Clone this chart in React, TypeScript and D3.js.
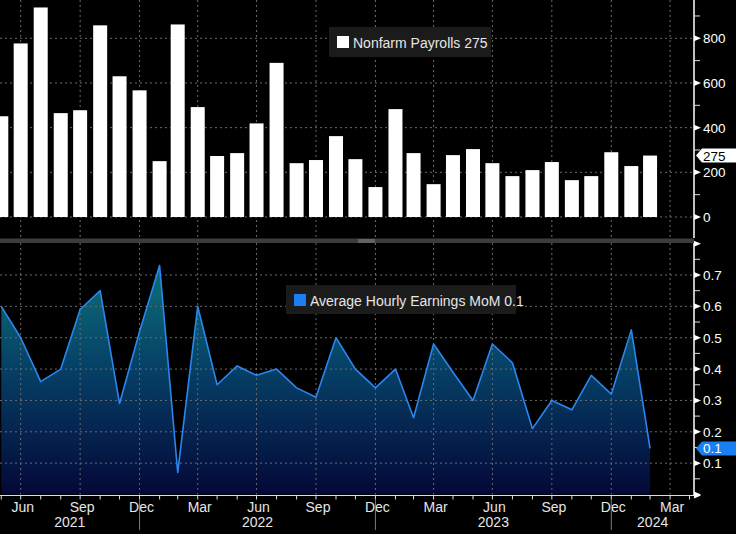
import React from "react";
import * as d3 from "d3";

// ---- data ----
const months = [
  "2021-05", "2021-06", "2021-07", "2021-08", "2021-09", "2021-10", "2021-11", "2021-12",
  "2022-01", "2022-02", "2022-03", "2022-04", "2022-05", "2022-06", "2022-07", "2022-08",
  "2022-09", "2022-10", "2022-11", "2022-12",
  "2023-01", "2023-02", "2023-03", "2023-04", "2023-05", "2023-06", "2023-07", "2023-08",
  "2023-09", "2023-10", "2023-11", "2023-12",
  "2024-01", "2024-02",
];
const payrolls = [
  451, 777, 938, 465, 478, 858, 630, 567,
  250, 862, 492, 273, 286, 419, 690, 241, 255, 362, 259, 134,
  483, 286, 147, 277, 304, 241, 183, 210, 246, 165, 183, 290,
  228, 275,
];
const earnings = [
  0.6, 0.5, 0.36, 0.4, 0.59, 0.65, 0.29, 0.52,
  0.73, 0.07, 0.6, 0.35, 0.41, 0.38, 0.4, 0.34, 0.31, 0.5, 0.4, 0.34,
  0.4, 0.245, 0.48, 0.39, 0.3, 0.48, 0.42, 0.21, 0.3, 0.27, 0.38, 0.32,
  0.525, 0.147,
];
const payrollTicks = [0, 200, 400, 600, 800];
const payrollMinor = [100, 300, 500, 700, 900];
const earningsTicks = [0.1, 0.2, 0.3, 0.4, 0.5, 0.6, 0.7];
const earningsMarks = [0, 0.8];
const earningsMinor = [0.05, 0.15, 0.25, 0.35, 0.45, 0.55, 0.65, 0.75];
const payrollLegend = "Nonfarm Payrolls 275";
const earningsLegend = "Average Hourly Earnings MoM 0.1";
const payrollLast = "275";
const earningsLast = "0.1";

// ---- layout ----
const W = 736;
const H = 534;
const AX = 694;
const TOP0 = 0;
const TOP1 = 238;
const BOT0 = 243;
const BOT1 = 494.5;
const FONT = "'Liberation Sans', Arial, sans-serif";
const GRID = "#6b6b6b";

const monthEnd = (s: string) => {
  const [y, m] = s.split("-").map(Number);
  return new Date(y, m, 0);
};
const dates = months.map(monthEnd);

const x = d3
  .scaleTime()
  .domain([new Date(2021, 4, 29), new Date(2024, 4, 7)])
  .range([0, AX]);

const yTop = d3.scaleLinear().domain([0, 800]).range([217, 38.3]);
const yBot = d3.scaleLinear().domain([0, 0.7]).range([BOT1, 275]);

// month ends within the domain
const monthStarts = d3.timeMonth.range(new Date(2021, 4, 1), new Date(2024, 4, 1));
const allMonthEnds = monthStarts
  .map((m) => d3.timeDay.offset(d3.timeMonth.offset(m, 1), -1))
  .filter((d) => x(d) >= 0 && x(d) <= AX);
const quarterEnds = allMonthEnds.filter((d) => d.getMonth() % 3 === 2);
const yearEnds = allMonthEnds.filter((d) => d.getMonth() === 11);
const fmtMonth = d3.timeFormat("%b");

const yearSpans = (() => {
  const bounds = [0, ...yearEnds.map((d) => x(d)), AX];
  const years = [2021, ...yearEnds.map((d) => d.getFullYear() + 1)];
  return years.map((yr, i) => ({ yr: String(yr), cx: (bounds[i] + bounds[i + 1]) / 2 }));
})();

export default function App() {
  const area = d3
    .area<number>()
    .x((_, i) => x(dates[i]))
    .y0(yBot(0))
    .y1((d) => yBot(d));
  const line = d3
    .line<number>()
    .x((_, i) => x(dates[i]))
    .y((d) => yBot(d));

  const tri = (y: number) => `M${AX},${y - 3} L${AX + 7},${y} L${AX},${y + 3} Z`;

  return (
    <svg
      width={W}
      height={H}
      style={{ position: "absolute", left: 0, top: 0, background: "#000", display: "block" }}
      fontFamily={FONT}
    >
      <defs>
        <clipPath id="clipTop">
          <rect x={0} y={TOP0} width={AX} height={TOP1 - TOP0} />
        </clipPath>
        <clipPath id="clipBot">
          <rect x={0} y={BOT0} width={AX} height={BOT1 - BOT0} />
        </clipPath>
        <linearGradient id="fillGrad" gradientUnits="userSpaceOnUse" x1={0} y1={265} x2={0} y2={BOT1}>
          <stop offset="0" stopColor="#0d7078" />
          <stop offset="0.45" stopColor="#064066" />
          <stop offset="1" stopColor="#040838" />
        </linearGradient>
      </defs>

      <rect x={0} y={0} width={W} height={H} fill="#000" />

      {/* ---------- top panel ---------- */}
      <g>
        {quarterEnds.map((d, i) => (
          <line key={"vt" + i} x1={x(d)} x2={x(d)} y1={TOP0} y2={TOP1} stroke={GRID} strokeDasharray="2,3" />
        ))}
        {payrollTicks.map((t) => (
          <line key={"ht" + t} x1={0} x2={AX} y1={yTop(t)} y2={yTop(t)} stroke={GRID} strokeDasharray="2,3" />
        ))}
        <g clipPath="url(#clipTop)">
          {payrolls.map((v, i) => (
            <rect
              key={"b" + i}
              x={x(dates[i]) - 7}
              y={yTop(v)}
              width={14}
              height={yTop(0) - yTop(v)}
              fill="#ffffff"
            />
          ))}
        </g>
        <line x1={AX} x2={AX} y1={TOP0} y2={TOP1} stroke="#fff" strokeWidth={1.5} />
        {payrollMinor.map((t) => (
          <line key={"mt" + t} x1={AX} x2={AX + 6} y1={yTop(t)} y2={yTop(t)} stroke="#ddd" />
        ))}
        {payrollTicks.map((t) => (
          <g key={"tl" + t}>
            <path d={tri(yTop(t))} fill="#fff" />
            <text x={AX + 9} y={yTop(t) + 5} fill="#fff" fontSize={13.5}>
              {t}
            </text>
          </g>
        ))}
        {/* last value label */}
        <path
          d={`M${AX + 2},${yTop(275)} L${AX + 8},${yTop(275) - 7} H${W} V${yTop(275) + 7} H${AX + 8} Z`}
          fill="#fff"
        />
        <text x={AX + 9} y={yTop(275) + 5} fill="#000" fontSize={13.5}>
          {payrollLast}
        </text>
        {/* legend */}
        <rect x={329} y={27} width={162} height={30} fill="#1b1b1b" />
        <rect x={337} y={36} width={12} height={12} fill="#fff" />
        <text x={353} y={48} fill="#e6e6e6" fontSize={14}>
          {payrollLegend}
        </text>
      </g>

      {/* ---------- separator ---------- */}
      <rect x={0} y={238.5} width={AX} height={4.5} fill="#3c3c3c" />
      <line x1={358} x2={375} y1={240} y2={240} stroke="#8a8a8a" />
      <line x1={358} x2={375} y1={242} y2={242} stroke="#8a8a8a" />

      {/* ---------- bottom panel ---------- */}
      <g>
        <g clipPath="url(#clipBot)">
          <path d={area(earnings) || ""} fill="url(#fillGrad)" />
        </g>
        {quarterEnds.map((d, i) => (
          <line key={"vb" + i} x1={x(d)} x2={x(d)} y1={BOT0} y2={BOT1} stroke={GRID} strokeDasharray="2,3" />
        ))}
        {earningsTicks.map((t) => (
          <line key={"hb" + t} x1={0} x2={AX} y1={yBot(t)} y2={yBot(t)} stroke={GRID} strokeDasharray="2,3" />
        ))}
        <g clipPath="url(#clipBot)">
          <path d={line(earnings) || ""} fill="none" stroke="#2a86ee" strokeWidth={1.6} strokeLinejoin="round" />
        </g>
        <line x1={AX} x2={AX} y1={BOT0} y2={BOT1 + 1} stroke="#fff" strokeWidth={1.5} />
        {earningsMinor.map((t) => (
          <line key={"mb" + t} x1={AX} x2={AX + 6} y1={yBot(t)} y2={yBot(t)} stroke="#ddd" />
        ))}
        {earningsMarks.map((t) => (
          <path key={"em" + t} d={tri(yBot(t))} fill="#fff" />
        ))}
        {earningsTicks.map((t) => (
          <g key={"bl" + t}>
            <path d={tri(yBot(t))} fill="#fff" />
            <text x={AX + 9} y={yBot(t) + 5} fill="#fff" fontSize={13.5}>
              {d3.format(".1f")(t)}
            </text>
          </g>
        ))}
        <path
          d={`M${AX + 2},${yBot(0.147)} L${AX + 8},${yBot(0.147) - 7} H${W} V${yBot(0.147) + 7} H${AX + 8} Z`}
          fill="#1a7ff0"
        />
        <text x={AX + 9} y={yBot(0.147) + 5} fill="#fff" fontSize={13.5}>
          {earningsLast}
        </text>
        {/* legend */}
        <rect x={286} y={285} width={230} height={29} fill="#1b1b1b" />
        <rect x={294} y={294} width={12} height={12} fill="#1a7ff0" />
        <text x={310} y={306} fill="#e6e6e6" fontSize={14}>
          {earningsLegend}
        </text>
      </g>

      {/* ---------- x axis ---------- */}
      <line x1={0} x2={AX + 2} y1={495.5} y2={495.5} stroke="#ddd" />
      <path d={`M${AX},${492.5} L${AX + 7},${495.5} L${AX},${498.5} Z`} fill="#fff" />
      {allMonthEnds.map((d, i) => (
        <line key={"xt" + i} x1={x(d)} x2={x(d)} y1={495.5} y2={499.5} stroke="#ddd" />
      ))}
      {quarterEnds.map((d, i) => (
        <text key={"xl" + i} x={x(d) + 2} y={512} fill="#e6e6e6" fontSize={14} textAnchor="middle">
          {fmtMonth(d)}
        </text>
      ))}
      {yearEnds.map((d, i) => (
        <line key={"ys" + i} x1={x(d)} x2={x(d)} y1={499} y2={530} stroke="#7a7a7a" />
      ))}
      {yearSpans.map((s) => (
        <text key={"yl" + s.yr} x={s.cx} y={527} fill="#e6e6e6" fontSize={14} textAnchor="middle">
          {s.yr}
        </text>
      ))}
    </svg>
  );
}
